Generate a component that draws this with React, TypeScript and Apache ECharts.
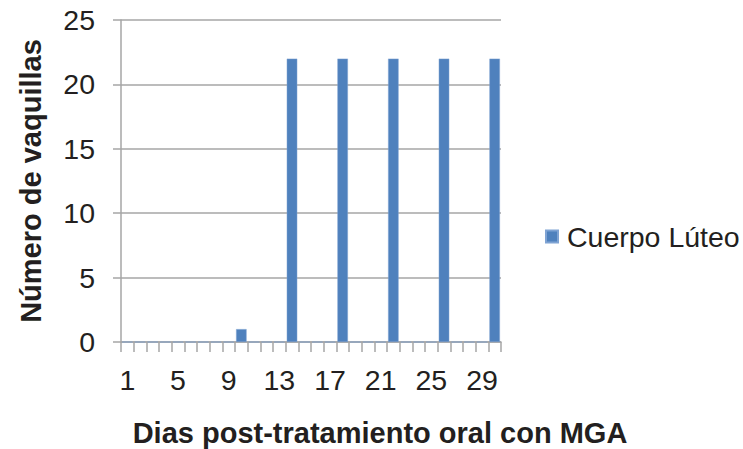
import React, { useEffect, useRef } from "react";
import * as echarts from "echarts";

const categories: string[] = Array.from({ length: 30 }, (_, i) => String(i + 1));
const dayValues: Array<[number, number]> = [
  [10, 1],
  [14, 22],
  [18, 22],
  [22, 22],
  [26, 22],
  [30, 22],
];
const seriesName = "Cuerpo Lúteo";
const yTitle = "Número de vaquillas";
const xTitle = "Dias post-tratamiento oral con MGA";

export default function App() {
  const ref = useRef<HTMLDivElement>(null);
  useEffect(() => {
    if (!ref.current) return;
    const chart = echarts.init(ref.current, undefined, { renderer: "svg" });
    const values = categories.map((c) => {
      const f = dayValues.find((d) => String(d[0]) === c);
      return f ? f[1] : 0;
    });
    const font = "'Liberation Sans', Arial, sans-serif";
    const gray = "#A6A6A6";
    const ink = "#231F20";
    chart.setOption({
      animation: false,
      grid: { left: 121, right: 242, top: 20, bottom: 107, containLabel: false },
      legend: {
        show: true,
        left: 545,
        top: 222,
        padding: 0,
        itemWidth: 12,
        itemHeight: 12,
        icon: "rect",
        data: [seriesName],
        textStyle: { fontSize: 28.5, color: ink, fontFamily: font, padding: [0, 0, 0, 4] },
      },
      xAxis: {
        type: "category",
        data: categories,
        boundaryGap: true,
        axisLine: { lineStyle: { color: gray, width: 1.5 } },
        axisTick: { show: true, interval: 0, length: 10, lineStyle: { color: gray, width: 1.5 } },
        axisLabel: { interval: 3, fontSize: 28.5, color: ink, fontFamily: font, margin: 23 },
        splitLine: { show: false },
      },
      yAxis: {
        type: "value",
        min: 0,
        max: 25,
        interval: 5,
        name: yTitle,
        nameLocation: "middle",
        nameGap: 76,
        nameTextStyle: { fontSize: 29, fontWeight: "bold", color: ink, fontFamily: font },
        axisLine: { show: true, lineStyle: { color: gray, width: 1.5 } },
        axisTick: { show: true, length: 8, lineStyle: { color: gray, width: 1.5 } },
        axisLabel: { fontSize: 28.5, color: ink, fontFamily: font, margin: 26 },
        splitLine: { show: true, lineStyle: { color: gray, width: 1.5 } },
      },
      graphic: [
        {
          type: "text",
          x: 380,
          y: 433,
          style: {
            text: xTitle,
            fontSize: 29,
            fontWeight: "bold",
            fill: ink,
            fontFamily: font,
            align: "center",
            verticalAlign: "middle",
          },
        },
      ],
      series: [
        {
          name: seriesName,
          type: "bar",
          data: values,
          barWidth: 10.5,
          itemStyle: { color: "#4F81BD", borderColor: "#7FA3D3", borderWidth: 0.5 },
        },
      ],
    });
    return () => chart.dispose();
  }, []);
  return (
    <div
      ref={ref}
      style={{ position: "fixed", left: 0, top: 0, width: 743, height: 449, background: "#fff" }}
    />
  );
}
